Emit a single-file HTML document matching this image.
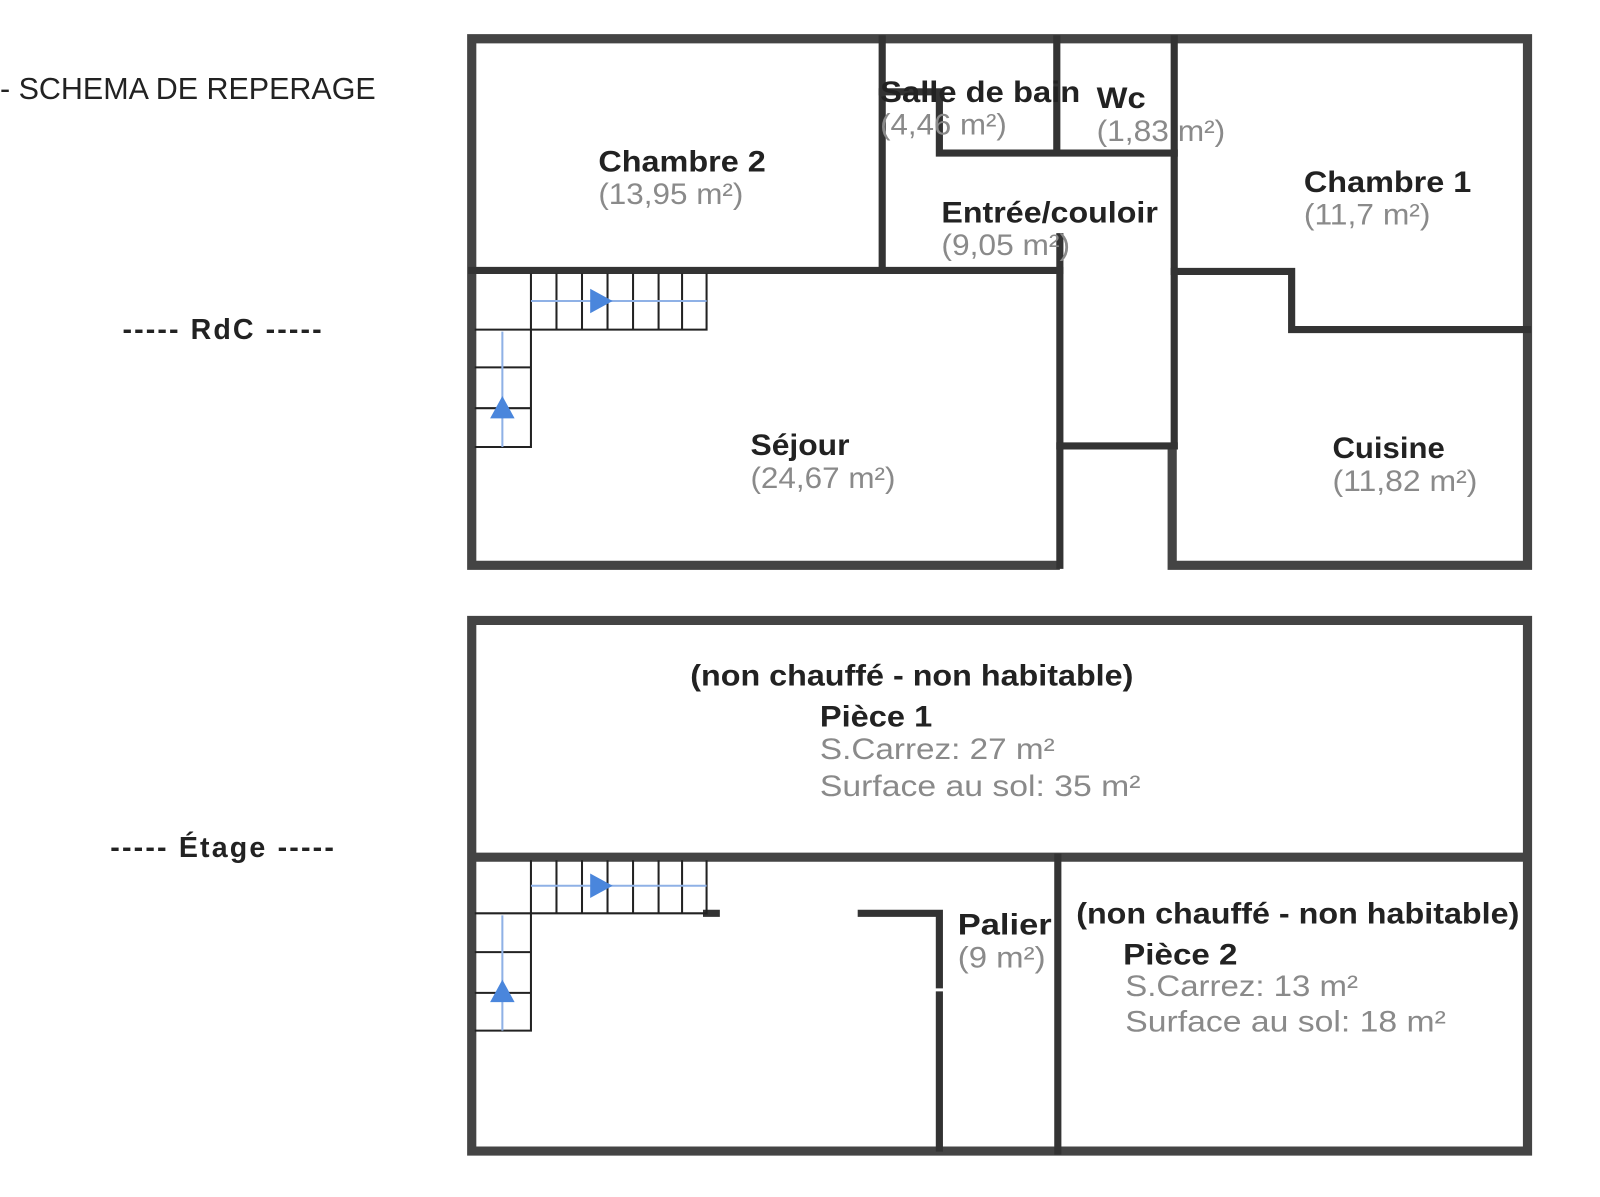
<!DOCTYPE html>
<html><head><meta charset="utf-8"><style>
html,body{margin:0;padding:0;background:#fff;width:1600px;height:1197px;overflow:hidden}
svg{display:block}
text{font-family:"Liberation Sans",sans-serif;font-weight:bold}
.b{fill:#222;font-size:29px}
.g{fill:#8a8a8a;font-size:29px;font-weight:normal}
.w{stroke:#333;stroke-width:7;fill:none;stroke-linecap:square}
.o{stroke:#444;stroke-width:9;fill:none}
.t{stroke:#222;stroke-width:2;fill:none}
.bl{stroke:#8fb1e6;stroke-width:2}
</style></head><body>
<svg width="1600" height="1197" viewBox="0 0 1567 1173" preserveAspectRatio="none">
<text x="0" y="97" textLength="368" lengthAdjust="spacingAndGlyphs" style="font-size:30px;font-weight:normal;fill:#222">- SCHEMA DE REPERAGE</text>
<text x="120" y="332" textLength="195" lengthAdjust="spacing" style="font-size:28px;fill:#222">----- RdC -----</text>
<text x="108" y="840" textLength="219" lengthAdjust="spacing" style="font-size:28px;fill:#222">----- Étage -----</text>

<!-- RdC -->
<path class="o" d="M1038 554 H462 V38 H1496 V554 H1148 V437"/>
<path class="w" d="M1038 554 V232"/>
<path class="w" d="M1150 38 V437"/>
<path class="w" d="M1038 437 H1150"/>
<path class="w" d="M864 38 V265 M462 265 H1038"/>
<path class="w" d="M1035 38 V150 M920 150 H1150 M920 90 V150 M864 90 H920"/>
<path class="w" d="M1150 266 H1265 V323 H1496"/>
<g class="t">
<path d="M520 268 V323 H692 V268 M545 268 V323 M570 268 V323 M595 268 V323 M620 268 V323 M645 268 V323 M668 268 V323"/>
<path d="M465 323 H520 V438 H465 M465 360 H520 M465 400 H520"/>
</g>
<line class="bl" x1="520" y1="295" x2="692" y2="295"/>
<polygon points="578,283 600,295 578,307" fill="#4a86dc"/>
<line class="bl" x1="492" y1="325" x2="492" y2="438"/>
<polygon points="480,410 492,388 504,410" fill="#4a86dc"/>

<text class="b" x="586" y="168" textLength="164" lengthAdjust="spacingAndGlyphs">Chambre 2</text>
<text class="g" x="586" y="200" textLength="142" lengthAdjust="spacingAndGlyphs">(13,95 m²)</text>
<text class="b" x="862" y="100" textLength="196" lengthAdjust="spacingAndGlyphs">Salle de bain</text>
<text class="g" x="862" y="132" textLength="124" lengthAdjust="spacingAndGlyphs">(4,46 m²)</text>
<text class="b" x="1074" y="106" textLength="48" lengthAdjust="spacingAndGlyphs">Wc</text>
<text class="g" x="1074" y="138" textLength="126" lengthAdjust="spacingAndGlyphs">(1,83 m²)</text>
<text class="b" x="922" y="218" textLength="212" lengthAdjust="spacingAndGlyphs">Entrée/couloir</text>
<text class="g" x="922" y="250" textLength="126" lengthAdjust="spacingAndGlyphs">(9,05 m²)</text>
<text class="b" x="1277" y="188" textLength="164" lengthAdjust="spacingAndGlyphs">Chambre 1</text>
<text class="g" x="1277" y="220" textLength="124" lengthAdjust="spacingAndGlyphs">(11,7 m²)</text>
<text class="b" x="735" y="446" textLength="97" lengthAdjust="spacingAndGlyphs">Séjour</text>
<text class="g" x="735" y="478" textLength="142" lengthAdjust="spacingAndGlyphs">(24,67 m²)</text>
<text class="b" x="1305" y="449" textLength="110" lengthAdjust="spacingAndGlyphs">Cuisine</text>
<text class="g" x="1305" y="481" textLength="142" lengthAdjust="spacingAndGlyphs">(11,82 m²)</text>

<!-- Etage -->
<path class="o" d="M462 608 H1496 V1128 H462 Z"/>
<path class="o" d="M462 840 H1496"/>
<path class="w" d="M1036 840 V1128"/>
<path class="w" d="M692 895 H920 V965 M920 975 V1125"/>
<rect x="705" y="885" width="135" height="14" fill="#fff"/>
<g class="t">
<path d="M520 843 V895 H692 V843 M545 843 V895 M570 843 V895 M595 843 V895 M620 843 V895 M645 843 V895 M668 843 V895"/>
<path d="M465 895 H520 V1010 H465 M465 933 H520 M465 973 H520"/>
</g>
<line class="bl" x1="520" y1="868" x2="692" y2="868"/>
<polygon points="578,856 600,868 578,880" fill="#4a86dc"/>
<line class="bl" x1="492" y1="897" x2="492" y2="1010"/>
<polygon points="480,982 492,960 504,982" fill="#4a86dc"/>

<text class="b" x="676" y="672" textLength="434" lengthAdjust="spacingAndGlyphs">(non chauffé - non habitable)</text>
<text class="b" x="803" y="712" textLength="110" lengthAdjust="spacingAndGlyphs">Pièce 1</text>
<text class="g" x="803" y="744" textLength="230" lengthAdjust="spacingAndGlyphs">S.Carrez: 27 m²</text>
<text class="g" x="803" y="780" textLength="314" lengthAdjust="spacingAndGlyphs">Surface au sol: 35 m²</text>
<text class="b" x="938" y="916" textLength="92" lengthAdjust="spacingAndGlyphs">Palier</text>
<text class="g" x="938" y="948" textLength="86" lengthAdjust="spacingAndGlyphs">(9 m²)</text>
<text class="b" x="1054" y="905" textLength="434" lengthAdjust="spacingAndGlyphs">(non chauffé - non habitable)</text>
<text class="b" x="1100" y="945" textLength="112" lengthAdjust="spacingAndGlyphs">Pièce 2</text>
<text class="g" x="1102" y="976" textLength="228" lengthAdjust="spacingAndGlyphs">S.Carrez: 13 m²</text>
<text class="g" x="1102" y="1011" textLength="314" lengthAdjust="spacingAndGlyphs">Surface au sol: 18 m²</text>
</svg>
</body></html>
